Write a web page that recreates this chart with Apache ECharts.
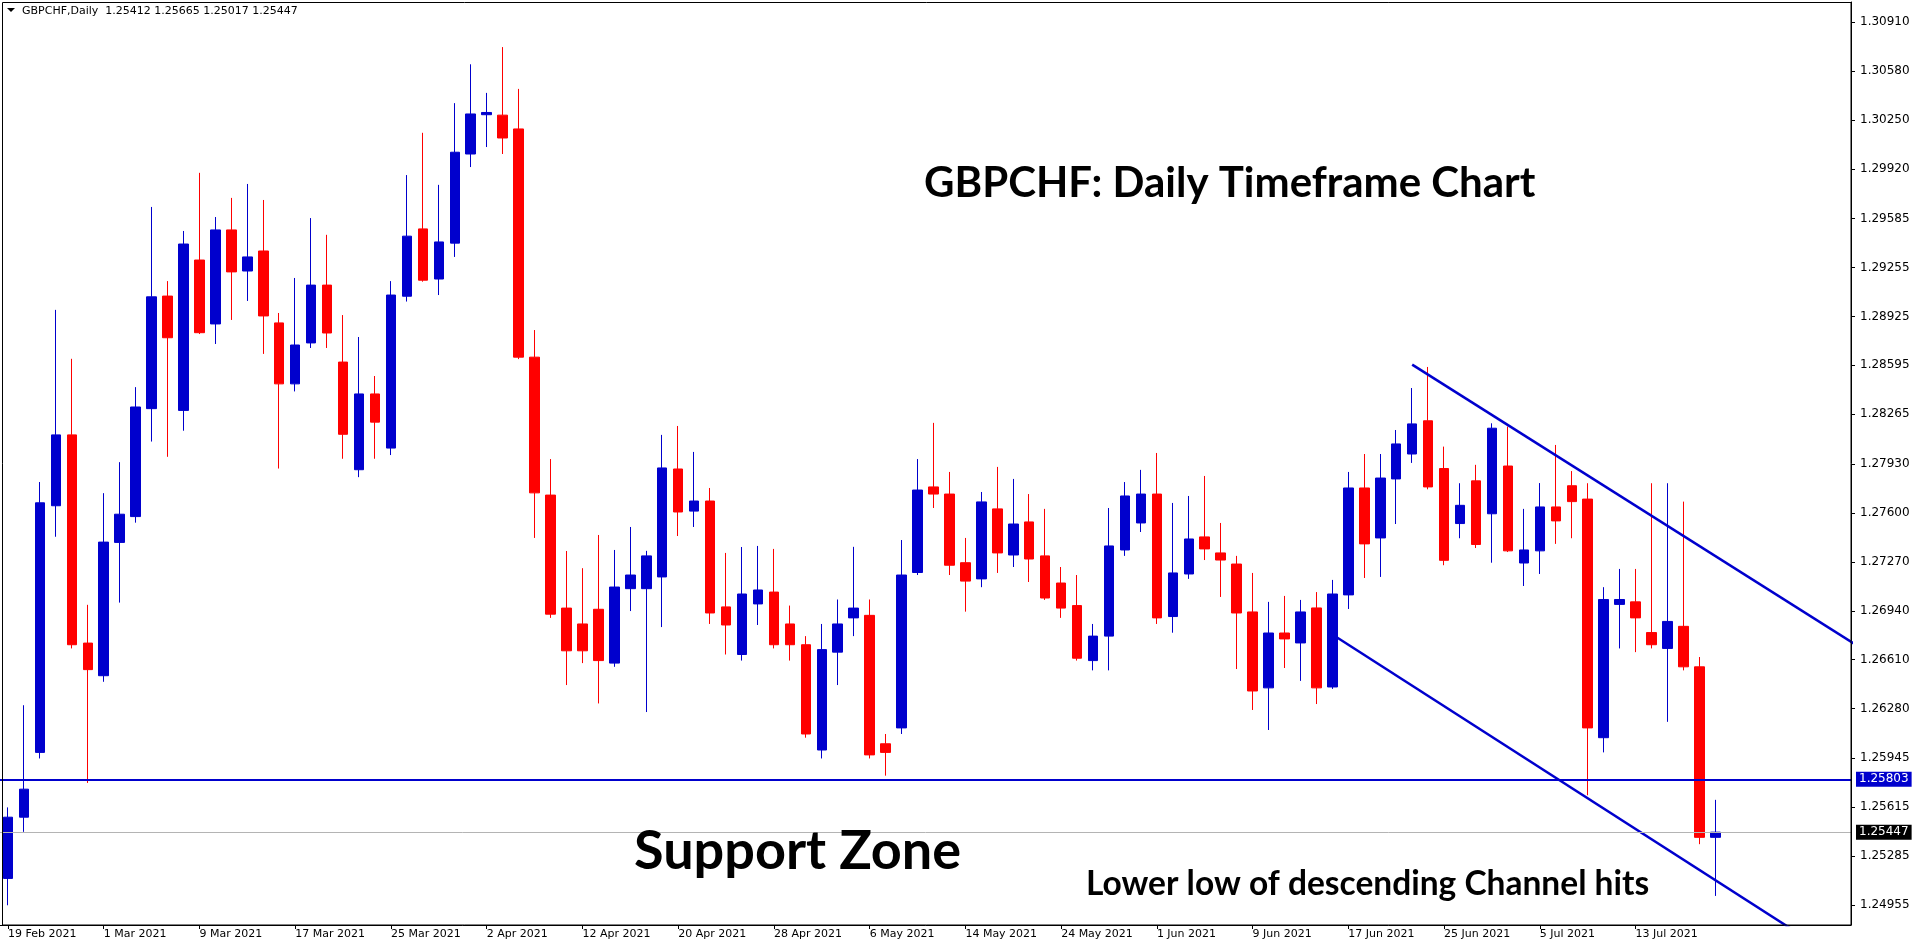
<!DOCTYPE html>
<html><head><meta charset="utf-8">
<script src="https://cdn.jsdelivr.net/npm/echarts@6/dist/echarts.min.js"></script>
<style>html,body{margin:0;padding:0;background:#fff;overflow:hidden}#chart{width:1916px;height:946px}</style>
</head><body><div id="chart"></div>
<script>
const symbol = 'GBPCHF';
const timeframe = 'Daily';
const dates = ['19 Feb 2021','22 Feb 2021','23 Feb 2021','24 Feb 2021','25 Feb 2021','26 Feb 2021',
'1 Mar 2021','2 Mar 2021','3 Mar 2021','4 Mar 2021','5 Mar 2021','8 Mar 2021','9 Mar 2021','10 Mar 2021','11 Mar 2021','12 Mar 2021',
'15 Mar 2021','16 Mar 2021','17 Mar 2021','18 Mar 2021','19 Mar 2021','22 Mar 2021','23 Mar 2021','24 Mar 2021','25 Mar 2021','26 Mar 2021',
'29 Mar 2021','30 Mar 2021','31 Mar 2021','1 Apr 2021','2 Apr 2021','5 Apr 2021','6 Apr 2021','7 Apr 2021','8 Apr 2021','9 Apr 2021',
'12 Apr 2021','13 Apr 2021','14 Apr 2021','15 Apr 2021','16 Apr 2021','19 Apr 2021','20 Apr 2021','21 Apr 2021','22 Apr 2021','23 Apr 2021',
'26 Apr 2021','27 Apr 2021','28 Apr 2021','29 Apr 2021','30 Apr 2021','3 May 2021','4 May 2021','5 May 2021','6 May 2021','7 May 2021',
'10 May 2021','11 May 2021','12 May 2021','13 May 2021','14 May 2021','17 May 2021','18 May 2021','19 May 2021','20 May 2021','21 May 2021',
'24 May 2021','25 May 2021','26 May 2021','27 May 2021','28 May 2021','31 May 2021','1 Jun 2021','2 Jun 2021','3 Jun 2021','4 Jun 2021',
'7 Jun 2021','8 Jun 2021','9 Jun 2021','10 Jun 2021','11 Jun 2021','14 Jun 2021','15 Jun 2021','16 Jun 2021','17 Jun 2021','18 Jun 2021',
'21 Jun 2021','22 Jun 2021','23 Jun 2021','24 Jun 2021','25 Jun 2021','28 Jun 2021','29 Jun 2021','30 Jun 2021','1 Jul 2021','2 Jul 2021',
'5 Jul 2021','6 Jul 2021','7 Jul 2021','8 Jul 2021','9 Jul 2021','12 Jul 2021','13 Jul 2021','14 Jul 2021','15 Jul 2021','16 Jul 2021',
'19 Jul 2021','20 Jul 2021'];
const futureDates = ['21 Jul 2021','22 Jul 2021','23 Jul 2021','26 Jul 2021','27 Jul 2021','28 Jul 2021','29 Jul 2021','30 Jul 2021'];
const timeTickLabels = ['19 Feb 2021','1 Mar 2021','9 Mar 2021','17 Mar 2021','25 Mar 2021','2 Apr 2021','12 Apr 2021','20 Apr 2021',
'28 Apr 2021','6 May 2021','14 May 2021','24 May 2021','1 Jun 2021','9 Jun 2021','17 Jun 2021','25 Jun 2021','5 Jul 2021','13 Jul 2021'];
const priceTickLabels = [1.30910,1.30580,1.30250,1.29920,1.29585,1.29255,1.28925,1.28595,1.28265,1.27930,1.27600,1.27270,
1.26940,1.26610,1.26280,1.25945,1.25615,1.25285,1.24955];

const opens = [1.25135,1.25548,1.25985,1.27648,1.28126,1.26722,1.26502,1.27401,1.27575,1.28303,
1.29062,1.28291,1.29305,1.28874,1.29508,1.29231,1.29366,1.28881,1.28470,1.28746,
1.29136,1.28617,1.27891,1.28402,1.28037,1.29061,1.29515,1.29177,1.29419,1.30020,
1.30285,1.30282,1.30189,1.28650,1.27720,1.26958,1.26851,1.26950,1.26587,1.27089,
1.27089,1.27168,1.27896,1.27612,1.27680,1.26966,1.26645,1.26986,1.27066,1.26851,
1.26711,1.26001,1.26661,1.26892,1.26909,1.26043,1.26150,1.27198,1.27775,1.27727,
1.27264,1.27155,1.27627,1.27316,1.27539,1.27310,1.27127,1.26975,1.26604,1.26769,
1.27350,1.27532,1.27727,1.26901,1.27188,1.27438,1.27330,1.27255,1.26932,1.26420,
1.26790,1.26723,1.26959,1.26426,1.27047,1.27768,1.27431,1.27829,1.27997,1.28221,
1.27899,1.27528,1.27816,1.27594,1.27916,1.27262,1.27344,1.27640,1.27783,1.27693,
1.26084,1.26983,1.27000,1.26793,1.26686,1.26835,1.26562,1.25412];
const highs = [1.25614,1.26303,1.27808,1.28969,1.28639,1.26980,1.27733,1.27942,1.28448,1.29663,
1.29163,1.29501,1.29893,1.29595,1.29724,1.29818,1.29710,1.28948,1.29184,1.29588,
1.29475,1.28934,1.28786,1.28523,1.29163,1.29878,1.30163,1.29812,1.30363,1.30625,
1.30432,1.30741,1.30459,1.28833,1.27963,1.27343,1.27227,1.27451,1.27350,1.27505,
1.27344,1.28126,1.28186,1.28011,1.27768,1.27330,1.27370,1.27377,1.27357,1.26975,
1.26769,1.26851,1.27016,1.27371,1.27016,1.26109,1.27417,1.27963,1.28207,1.27876,
1.27431,1.27741,1.27910,1.27829,1.27727,1.27627,1.27235,1.27181,1.26851,1.27633,
1.27808,1.27890,1.28004,1.27667,1.27714,1.27849,1.27532,1.27310,1.27195,1.27000,
1.27040,1.27013,1.27066,1.27148,1.27876,1.27997,1.27997,1.28159,1.28442,1.28584,
1.28047,1.27800,1.27924,1.28204,1.28182,1.27627,1.27801,1.28058,1.27882,1.27800,
1.27099,1.27222,1.27222,1.27800,1.27800,1.27676,1.26628,1.25665];
const lows = [1.24954,1.25449,1.25944,1.27439,1.26686,1.25779,1.26461,1.26995,1.27534,1.28081,
1.27978,1.28154,1.28806,1.28739,1.28901,1.29029,1.28672,1.27899,1.28419,1.28712,
1.28712,1.27965,1.27841,1.27965,1.27990,1.29025,1.29159,1.29069,1.29326,1.29932,
1.30067,1.30020,1.28637,1.27431,1.26892,1.26439,1.26587,1.26315,1.26562,1.26938,
1.26257,1.26830,1.27444,1.27505,1.26851,1.26645,1.26604,1.26844,1.26686,1.26604,
1.26084,1.25944,1.26439,1.26769,1.25944,1.25828,1.26109,1.27181,1.27633,1.27181,
1.26934,1.27099,1.27195,1.27235,1.27134,1.27013,1.26892,1.26604,1.26538,1.26538,
1.27310,1.27471,1.26851,1.26792,1.27155,1.27282,1.27033,1.26547,1.26271,1.26136,
1.26554,1.26467,1.26311,1.26413,1.26952,1.27161,1.27168,1.27525,1.27937,1.27759,
1.27247,1.27429,1.27363,1.27264,1.27336,1.27107,1.27188,1.27391,1.27429,1.25696,
1.25985,1.26686,1.26661,1.26686,1.26191,1.26538,1.25366,1.25017];
const closes = [1.25548,1.25737,1.27668,1.28126,1.26711,1.26543,1.27403,1.27591,1.28314,1.29057,
1.28781,1.29413,1.28815,1.29508,1.29225,1.29326,1.28928,1.28470,1.28732,1.29136,
1.28813,1.28130,1.28402,1.28212,1.29069,1.29466,1.29169,1.29427,1.30032,1.30290,
1.30300,1.30128,1.28650,1.27735,1.26917,1.26670,1.26670,1.26604,1.27100,1.27181,
1.27310,1.27903,1.27606,1.27680,1.26925,1.26844,1.27053,1.27080,1.26711,1.26711,
1.26109,1.26678,1.26851,1.26958,1.25968,1.25985,1.27181,1.27754,1.27727,1.27247,
1.27140,1.27674,1.27330,1.27525,1.27289,1.27026,1.26958,1.26620,1.26769,1.27377,
1.27714,1.27727,1.26892,1.27195,1.27424,1.27357,1.27282,1.26925,1.26399,1.26790,
1.26750,1.26932,1.26420,1.27053,1.27768,1.27391,1.27835,1.28065,1.28200,1.27775,
1.27280,1.27651,1.27387,1.28171,1.27344,1.27350,1.27640,1.27546,1.27676,1.26150,
1.27016,1.27016,1.26892,1.26711,1.26868,1.26562,1.25412,1.25447];

const supportLevel = 1.25803;
const upperChannel = [[88, 1.28600], [115, 1.26765]];
const lowerChannel = [[83, 1.26780], [115, 1.24571]];

const BLUE = '#0000CD', RED = '#FF0000';
const categories = dates.concat(futureDates);
const candleData = opens.map((o, i) => [o, closes[i], lows[i], highs[i]]);
const last = opens.length - 1;
const bidPrice = closes[last];

function extendRay(pts, toX) {
  const [[x1, y1], [x2, y2]] = pts;
  const k = (y2 - y1) / (x2 - x1);
  return [[x1, y1], [toX, y1 + k * (toX - x1)]];
}

const chart = echarts.init(document.getElementById('chart'), null, {renderer: 'canvas'});
const fontAxis = '"DejaVu Sans", Tahoma, sans-serif';
const priceBox = (txt, bg) => ({show: true, position: 'end', distance: 5, formatter: () => txt,
  color: '#fff', backgroundColor: bg, padding: [2, 3, 1, 3], fontSize: 12, fontFamily: fontAxis});
chart.setOption({
  animation: false,
  backgroundColor: '#ffffff',
  grid: {left: -5, top: 2, width: 1856, height: 923, containLabel: false},
  xAxis: {
    type: 'category', data: categories, boundaryGap: true,
    axisLine: {show: true, lineStyle: {color: '#000', width: 1}},
    axisTick: {show: true, alignWithLabel: true, length: 4, lineStyle: {color: '#000'},
      interval: (i, v) => timeTickLabels.indexOf(v) >= 0},
    axisLabel: {show: true, interval: (i, v) => timeTickLabels.indexOf(v) >= 0,
      align: 'left', margin: 4, color: '#000', fontSize: 11, fontFamily: fontAxis},
    splitLine: {show: false}
  },
  yAxis: {
    type: 'value', position: 'right', scale: true,
    min: 1.24821, max: 1.31045,
    axisLine: {show: true, lineStyle: {color: '#000', width: 1}},
    axisTick: {show: true, length: 4, customValues: priceTickLabels, lineStyle: {color: '#000'}},
    axisLabel: {show: true, customValues: priceTickLabels, margin: 9, color: '#000', fontSize: 12,
      fontFamily: fontAxis, formatter: v => v.toFixed(5)},
    splitLine: {show: false}
  },
  series: [
    {
      type: 'candlestick', data: candleData, barWidth: 10, clip: true,
      itemStyle: {color: BLUE, color0: RED, borderColor: BLUE, borderColor0: RED, borderColorDoji: BLUE, borderWidth: 1}
    },
    {type: 'line', data: extendRay(upperChannel, 120), symbol: 'none', silent: true, clip: true,
      lineStyle: {color: BLUE, width: 2.5}, z: 3,
      markLine: {
        silent: true, symbol: ['none', 'none'], animation: false, precision: 5,
        data: [
          {yAxis: bidPrice, lineStyle: {color: '#B4B4B4', width: 1, type: 'solid'}, label: priceBox(bidPrice.toFixed(5), '#000')},
          {yAxis: supportLevel, lineStyle: {color: BLUE, width: 2, type: 'solid'}, label: priceBox(supportLevel.toFixed(5), BLUE)}
        ]
      }},
    {type: 'line', data: extendRay(lowerChannel, 120), symbol: 'none', silent: true, clip: true,
      lineStyle: {color: BLUE, width: 2.5}, z: 3}
  ],
  graphic: [
    {type: 'rect', silent: true, z: 10, shape: {x: 2.5, y: 2.5, width: 1848.5, height: 922.5},
      style: {fill: 'none', stroke: '#000', lineWidth: 1}},
    {type: 'polygon', silent: true, z: 10, shape: {points: [[7, 8], [15, 8], [11, 12]]}, style: {fill: '#000'}},
    {type: 'text', silent: true, z: 10, x: 22, y: 11,
      style: {text: symbol + ',' + timeframe + '  ' + [opens[last], highs[last], lows[last], closes[last]].map(v => v.toFixed(5)).join(' '),
        font: '11px "DejaVu Sans"', fill: '#000', verticalAlign: 'middle'}},
    {type: 'text', silent: true, z: 10, x: 924, y: 183,
      style: {text: 'GBPCHF: Daily Timeframe Chart', font: 'bold 42px Lato', fill: '#000', verticalAlign: 'middle'}},
    {type: 'text', silent: true, z: 10, x: 634, y: 852,
      style: {text: 'Support Zone', font: 'bold 54px Lato', fill: '#000', verticalAlign: 'middle'}},
    {type: 'text', silent: true, z: 10, x: 1086, y: 884,
      style: {text: 'Lower low of descending Channel hits', font: 'bold 33.5px Lato', fill: '#000', verticalAlign: 'middle'}}
  ]
});
</script></body></html>
